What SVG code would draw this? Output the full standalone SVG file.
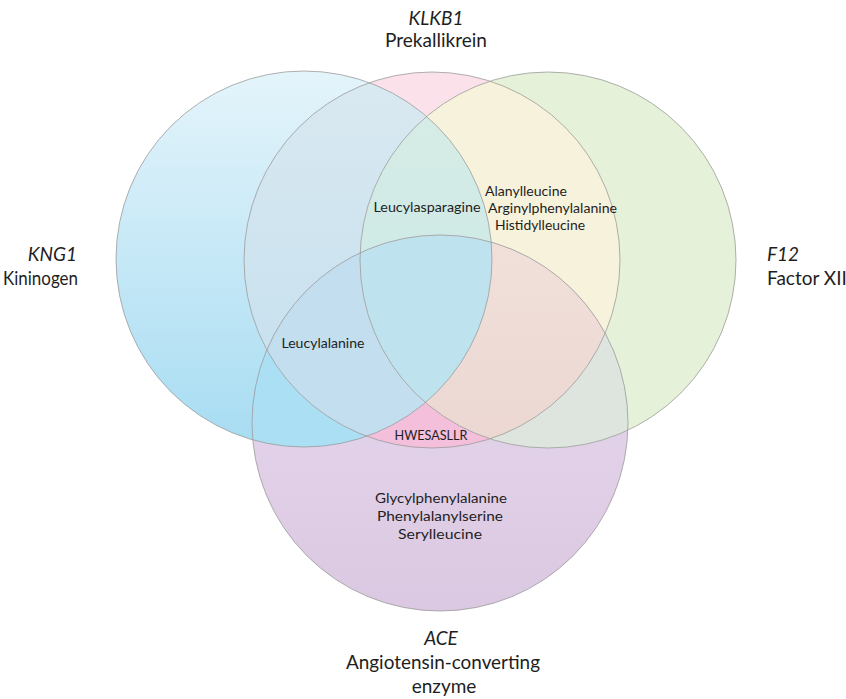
<svg xmlns="http://www.w3.org/2000/svg" width="846" height="699" viewBox="0 0 846 699">
<defs>
  <clipPath id="cB"><circle cx="304" cy="259" r="188"/></clipPath>
  <clipPath id="cP"><circle cx="432" cy="260" r="188"/></clipPath>
  <clipPath id="cG"><circle cx="548" cy="260" r="188"/></clipPath>
  <clipPath id="cV"><circle cx="440" cy="423" r="188"/></clipPath>
  <linearGradient id="gB" gradientUnits="userSpaceOnUse" x1="0" y1="71" x2="0" y2="447">
    <stop offset="0" stop-color="#e4f4fb"/><stop offset="1" stop-color="#a7dcf2"/>
  </linearGradient>
  <linearGradient id="gBP" gradientUnits="userSpaceOnUse" x1="0" y1="71" x2="0" y2="447">
    <stop offset="0" stop-color="#dae9f1"/><stop offset="1" stop-color="#c2dfee"/>
  </linearGradient>
  <linearGradient id="gBPG" gradientUnits="userSpaceOnUse" x1="0" y1="117" x2="0" y2="400">
    <stop offset="0" stop-color="#d6ece6"/><stop offset="1" stop-color="#c8e7e6"/>
  </linearGradient>
  <linearGradient id="gV" gradientUnits="userSpaceOnUse" x1="0" y1="235" x2="0" y2="611">
    <stop offset="0" stop-color="#e9dcef"/><stop offset="1" stop-color="#dbc8e2"/>
  </linearGradient>
  <linearGradient id="gPGV" gradientUnits="userSpaceOnUse" x1="0" y1="235" x2="0" y2="447">
    <stop offset="0" stop-color="#f1e0da"/><stop offset="1" stop-color="#ecd7d2"/>
  </linearGradient>
</defs>
<style>
  .t{font-family:Lato,"Open Sans","Liberation Sans",sans-serif;fill:#1e1e1e}
  .o{font-size:19px}
  .i{font-size:13.5px}
  .it{font-style:italic}
  .edge{fill:none;stroke:#9c9c9c;stroke-width:1;stroke-opacity:.8}
</style>
<rect width="846" height="699" fill="#ffffff"/>
<g id="regions">
  <circle cx="432" cy="260" r="188" fill="#fbe1e9"/>
  <circle cx="548" cy="260" r="188" fill="#e5f1d8"/>
  <circle cx="440" cy="423" r="188" fill="url(#gV)"/>
  <circle cx="304" cy="259" r="188" fill="url(#gB)"/>
  <g clip-path="url(#cB)"><circle cx="432" cy="260" r="188" fill="url(#gBP)"/></g>
  <g clip-path="url(#cP)"><circle cx="548" cy="260" r="188" fill="#f7f2dc"/></g>
  <g clip-path="url(#cP)"><circle cx="440" cy="423" r="188" fill="#f3bfdb"/></g>
  <g clip-path="url(#cG)"><circle cx="440" cy="423" r="188" fill="#dee5de"/></g>
  <g clip-path="url(#cB)"><circle cx="440" cy="423" r="188" fill="#abdff4"/></g>
  <g clip-path="url(#cB)"><g clip-path="url(#cP)"><circle cx="548" cy="260" r="188" fill="url(#gBPG)"/></g></g>
  <g clip-path="url(#cB)"><g clip-path="url(#cP)"><circle cx="440" cy="423" r="188" fill="#c3dfef"/></g></g>
  <g clip-path="url(#cP)"><g clip-path="url(#cG)"><circle cx="440" cy="423" r="188" fill="url(#gPGV)"/></g></g>
  <g clip-path="url(#cB)"><g clip-path="url(#cP)"><g clip-path="url(#cG)"><circle cx="440" cy="423" r="188" fill="#bfe3ee"/></g></g></g>
</g>
<g id="connectors"/>
<g id="KNG1">
  <circle class="edge" cx="304" cy="259" r="188"/>
  <text class="t o it" x="77" y="261" text-anchor="end">KNG1</text>
  <text class="t o" x="3" y="285" textLength="75" lengthAdjust="spacingAndGlyphs">Kininogen</text>
</g>
<g id="KLKB1">
  <circle class="edge" cx="432" cy="260" r="188"/>
  <text class="t o it" x="436" y="25" text-anchor="middle">KLKB1</text>
  <text class="t o" x="436" y="47" text-anchor="middle" textLength="102" lengthAdjust="spacingAndGlyphs">Prekallikrein</text>
</g>
<g id="F12">
  <circle class="edge" cx="548" cy="260" r="188"/>
  <text class="t o it" x="767" y="261">F12</text>
  <text class="t o" x="767" y="285">Factor XII</text>
</g>
<g id="ACE">
  <circle class="edge" cx="440" cy="423" r="188"/>
  <text class="t o it" x="441" y="645" text-anchor="middle">ACE</text>
  <text class="t o" x="443" y="669" text-anchor="middle" textLength="194" lengthAdjust="spacingAndGlyphs">Angiotensin-converting</text>
  <text class="t o" x="444" y="693" text-anchor="middle">enzyme</text>
</g>
<g id="set-labels">
  <text class="t i" x="427" y="212" text-anchor="middle" textLength="107" lengthAdjust="spacingAndGlyphs">Leucylasparagine</text>
  <text class="t i" x="485" y="196" textLength="82" lengthAdjust="spacingAndGlyphs">Alanylleucine</text>
  <text class="t i" x="488" y="213" textLength="129" lengthAdjust="spacingAndGlyphs">Arginylphenylalanine</text>
  <text class="t i" x="495" y="230" textLength="90" lengthAdjust="spacingAndGlyphs">Histidylleucine</text>
  <text class="t i" x="323" y="348" text-anchor="middle" textLength="83" lengthAdjust="spacingAndGlyphs">Leucylalanine</text>
  <text class="t i" x="431" y="440" text-anchor="middle" textLength="73" lengthAdjust="spacingAndGlyphs">HWESASLLR</text>
  <text class="t i" x="441" y="503" text-anchor="middle" textLength="132" lengthAdjust="spacingAndGlyphs">Glycylphenylalanine</text>
  <text class="t i" x="440" y="521" text-anchor="middle" textLength="126" lengthAdjust="spacingAndGlyphs">Phenylalanylserine</text>
  <text class="t i" x="440" y="539" text-anchor="middle" textLength="84" lengthAdjust="spacingAndGlyphs">Serylleucine</text>
</g>
</svg>
